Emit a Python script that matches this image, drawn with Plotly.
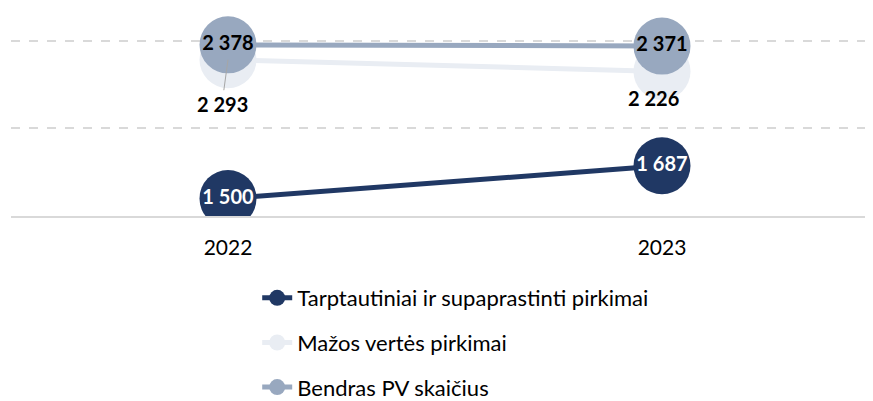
import plotly.graph_objects as go

years = ["2022", "2023"]
tarptautiniai = [1500, 1687]
mazos_vertes = [2293, 2226]
bendras = [2378, 2371]

names = ["Tarptautiniai ir supaprastinti pirkimai", "Mažos vertės pirkimai", "Bendras PV skaičius"]
colors = ["#203864", "#E9EDF3", "#98A8BF"]

FONT = "Lato"


def fmt(v):
    return f"{v:,}".replace(",", " ")


def traces(fig):
    x = [0, 1]
    # tamsi linija su baltais skaiciais
    fig.add_trace(go.Scatter(
        x=x, y=tarptautiniai, name=names[0], legendgroup="a",
        mode="lines+markers+text",
        line=dict(color=colors[0], width=5),
        marker=dict(size=57, color=colors[0], line=dict(width=0)),
        text=[fmt(v) for v in tarptautiniai], textposition="middle center",
        textfont=dict(family=FONT, size=20, color="white", weight="bold"),
        hoverinfo="skip"))
    # sviesi linija, etiketes po tasku
    fig.add_trace(go.Scatter(
        x=x, y=mazos_vertes, name=names[1], legendgroup="b",
        mode="lines+markers",
        line=dict(color=colors[1], width=5),
        marker=dict(size=57, color=colors[1], line=dict(width=0)),
        hoverinfo="skip"))
    fig.add_trace(go.Scatter(
        x=x, y=bendras, name=names[2], legendgroup="c",
        mode="lines+markers+text",
        line=dict(color=colors[2], width=5),
        marker=dict(size=57, color=colors[2], line=dict(width=0)),
        text=[fmt(v) for v in bendras], textposition="middle center",
        textfont=dict(family=FONT, size=20, color="black", weight="bold"),
        hoverinfo="skip"))

    # 2022 etikete su linija
    fig.add_annotation(x=0, y=mazos_vertes[0], text="<b>" + fmt(mazos_vertes[0]) + "</b>",
                       showarrow=True, arrowhead=0, arrowwidth=1, arrowcolor="#A6A6A6",
                       ax=-6, ay=44, standoff=0,
                       font=dict(family=FONT, size=20, color="black"))
    fig.add_annotation(x=1, y=mazos_vertes[1], text="<b>" + fmt(mazos_vertes[1]) + "</b>",
                       showarrow=False, xshift=-9, yshift=-27,
                       font=dict(family=FONT, size=20, color="black"))


def params(fig):
    # puslapis turi 8px body margin, todel parastes mazesnes
    fig.update_xaxes(range=[-0.5, 1.5046], tickmode="array", tickvals=[0, 1], ticktext=years,
                     showgrid=False, zeroline=False, showline=True, linecolor="#D9D9D9",
                     linewidth=2, ticks="", ticklabelstandoff=12,
                     tickfont=dict(family=FONT, size=21, color="black"))
    fig.update_yaxes(range=[1400, 2577], tickmode="array", tickvals=[1900, 2400],
                     showticklabels=False, showgrid=True, gridcolor="#D9D9D9",
                     griddash="dash", gridwidth=1.5, zeroline=False)
    fig.update_layout(
        width=873, height=401,
        plot_bgcolor="white", paper_bgcolor="white",
        margin=dict(l=3, r=0, t=2, b=193),
        showlegend=True,
        legend=dict(x=0.283, y=0.329, xanchor="left", yanchor="top", yref="container",
                    orientation="v", tracegroupgap=13,
                    font=dict(family=FONT, size=22, color="black")),
    )


def graph():
    fig = go.Figure()
    traces(fig)
    params(fig)
    fig.write_html("out.html")


graph()
